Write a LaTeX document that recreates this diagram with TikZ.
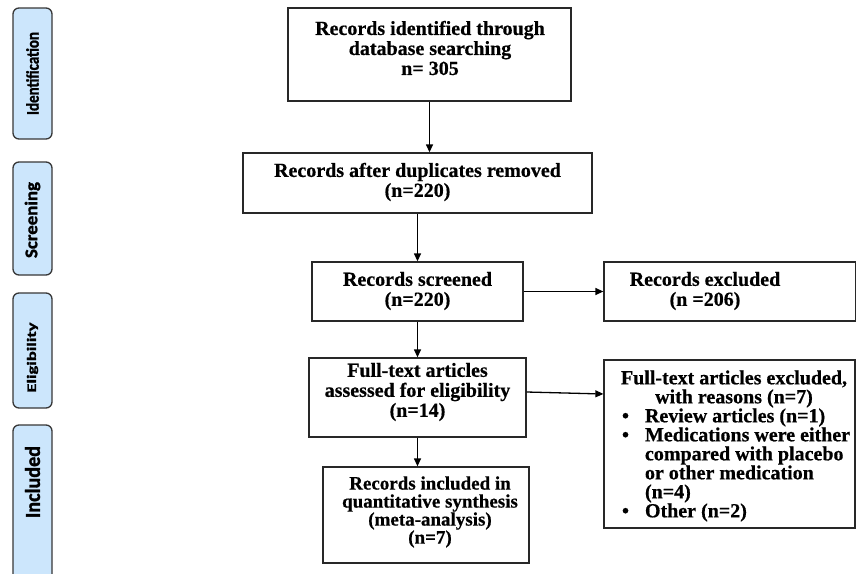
\documentclass[tikz,border=0pt]{standalone}
\usepackage{fontspec}
\setmainfont{Liberation Serif}[BoldFeatures={FakeBold=0.6}]
\newfontfamily\labfont{Carlito}[BoldFeatures={FakeBold=1.5}]
\usetikzlibrary{arrows.meta}
\definecolor{sidefill}{RGB}{204,230,252}
\definecolor{sideline}{RGB}{55,55,55}
\definecolor{boxline}{RGB}{40,40,40}
\begin{document}
\begin{tikzpicture}[x=1pt,y=-1pt,
  box/.style={draw=boxline,line width=1.3pt,inner sep=0pt},
  txt/.style={font=\bfseries\fontsize{20}{20}\selectfont,align=center,inner sep=0pt},
  arr/.style={-{Triangle[length=8pt,width=7pt]},line width=1.3pt},
  side/.style={draw=sideline,fill=sidefill,line width=1.3pt,rounded corners=6pt,inner sep=0pt},
  sidetxt/.style={font=\labfont\bfseries\fontsize{15}{15}\selectfont,rotate=90,inner sep=0pt}]
\useasboundingbox (0,0) rectangle (856,573);

% side labels
\node[side,minimum width=39pt,minimum height=131pt] (s1) at (32.5,73.5) {};
\node[sidetxt] (s1t) at (32.5,73.5) {\resizebox{83pt}{12.5pt}{Identification}};
\node[side,minimum width=39pt,minimum height=113pt] (s2) at (32.5,218.5) {};
\node[sidetxt] (s2t) at (32.5,220) {\resizebox{76pt}{12.5pt}{Screening}};
\node[side,minimum width=39pt,minimum height=115pt] (s3) at (32.5,350.5) {};
\node[sidetxt] (s3t) at (32.5,357.5) {\resizebox{70pt}{9pt}{Eligibility}};
\path[side] (13,585) |- (52,425) -- (52,585);
\node[sidetxt] (s4t) at (32.5,482) {\resizebox{72pt}{15pt}{Included}};

% boxes
\node[box,minimum width=283pt,minimum height=93pt] (b1) at (429.5,54.5) {};
\node[txt] (t1) at (430,48) {Records identified through\\database searching\\n= 305};

\node[box,minimum width=349pt,minimum height=60pt] (b2) at (417.5,183) {};
\node[txt] (t2) at (417.5,182) {Records after duplicates removed\\(n=220)};

\node[box,minimum width=211pt,minimum height=59pt] (b3) at (417.5,291.5) {};
\node[txt] (t3) at (417.5,291) {Records screened\\(n=220)};

\node[box,minimum width=252pt,minimum height=59pt] (e1) at (730,291.5) {};
\node[txt] (t4) at (705,291) {Records excluded\\(n =206)};

\node[box,minimum width=217pt,minimum height=79pt] (b4) at (417.5,397.5) {};
\node[txt] (t5) at (417.5,392) {Full-text articles\\assessed for eligibility\\(n=14)};

\node[box,minimum width=251pt,minimum height=168pt] (e2) at (729.5,444) {};
\node[txt,font=\bfseries\fontsize{20}{19}\selectfont,align=left] (t6) at (734,446) {%
\makebox[236pt]{Full-text articles excluded,}\\
\makebox[236pt]{with reasons (n=7)}\\
\hspace*{6pt}\makebox[23pt][l]{\textbullet}Review articles (n=1)\\
\hspace*{6pt}\makebox[23pt][l]{\textbullet}Medications were either\\
\hspace*{29pt}compared with placebo\\
\hspace*{29pt}or other medication\\
\hspace*{29pt}(n=4)\\
\hspace*{6pt}\makebox[23pt][l]{\textbullet}Other (n=2)};

\node[box,minimum width=206pt,minimum height=96pt] (b5) at (426,515) {};
\node[txt,font=\bfseries\fontsize{19}{18}\selectfont] (t7) at (430,512) {Records included in\\quantitative synthesis\\(meta-analysis)\\(n=7)};

% connectors
\draw[arr] (b1.south) -- (b1.south |- b2.north);
\draw[arr] (b2.south) -- (b3.north);
\draw[arr] (b3.south) -- (b4.north);
\draw[arr] (b4.south) -- (b4.south |- b5.north);
\draw[arr] (b3.east) -- (e1.west);
\draw[arr] ([yshift=5.5pt]b4.east) -- ([yshift=50pt]e2.west);
\end{tikzpicture}
\end{document}
